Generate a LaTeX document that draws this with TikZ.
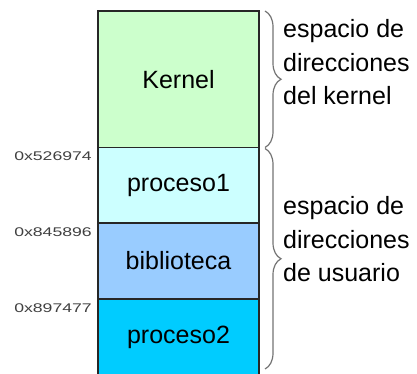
\documentclass[tikz,border=0pt]{standalone}
\usepackage{fontspec}
\setmainfont{Liberation Sans}
\usepackage{xcolor}
\usetikzlibrary{positioning,calc,decorations.pathreplacing}
\definecolor{kernelgreen}{HTML}{CCFFCC}
\definecolor{procone}{HTML}{CCFFFF}
\definecolor{library}{HTML}{99CCFF}
\definecolor{proctwo}{HTML}{00CCFF}

\begin{document}
\begin{tikzpicture}[x=1pt, y=1pt, node distance=0pt]
    \tikzstyle{segment} = [rectangle, draw=black!85, line width=1.2pt, minimum width=161pt, outer sep=0pt, inner sep=0pt, font=\fontsize{25}{30}\selectfont]
    \tikzstyle{addr} = [anchor=base east, inner sep=0pt, text=black!75, font=\fontsize{12.6}{14}\selectfont]
    \tikzstyle{spanbrace} = [draw=black!55, line width=1.2pt, decorate, decoration={brace, amplitude=16pt}]
    \tikzstyle{note} = [anchor=west, align=left, inner sep=0pt, font=\fontsize{25}{30}\selectfont]
    \useasboundingbox (0,0) rectangle (417,374);
    \clip (0,0) rectangle (417,374);
    \node[segment, fill=kernelgreen, minimum height=136.5pt, anchor=north] (kernel) at (178.5,363) {Kernel};
    \node[segment, fill=procone, minimum height=75.5pt, below=of kernel] (proc1) {proceso1};
    \node[segment, fill=library, minimum height=76pt, below=of proc1] (bibl) {biblioteca};
    \node[segment, fill=proctwo, minimum height=77pt, below=of bibl] (proc2) {proceso2};
    \node[addr] (addr1) at ($(proc1.north west)+(-6,-13.5)$) {\scalebox{1.4}[1]{0x526974}};
    \node[addr] (addr2) at ($(bibl.north west)+(-6,-13.5)$) {\scalebox{1.4}[1]{0x845896}};
    \node[addr] (addr3) at ($(proc2.north west)+(-6,-13.5)$) {\scalebox{1.4}[1]{0x897477}};
    \draw[spanbrace] ($(kernel.north east)+(6,0)$) -- ($(kernel.south east)+(6,0)$);
    \draw[spanbrace] ($(proc1.north east)+(6,-1)$) -- ($(proc2.south east)+(6,7)$);
    \node[note] (kspace) at (283,311.6) {espacio de\\[3.5pt]direcciones\\[3.5pt]del kernel};
    \node[note] (uspace) at (283,134.6) {espacio de\\[3.5pt]direcciones\\[3.5pt]de usuario};
\end{tikzpicture}
\end{document}
